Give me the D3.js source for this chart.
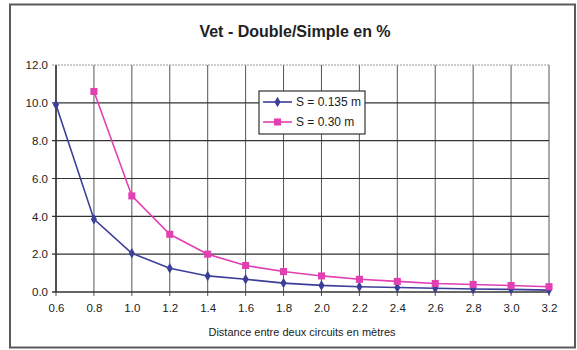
<!DOCTYPE html>
<html><head><meta charset="utf-8">
<script src="https://cdn.jsdelivr.net/npm/d3@7"></script>
<style>body{margin:0;background:#fff}svg{display:block}text{font-family:"Liberation Sans",Arial,sans-serif}</style>
</head><body><svg id="c" width="577" height="350"></svg>
<script>
const distances = [0.6,0.8,1.0,1.2,1.4,1.6,1.8,2.0,2.2,2.4,2.6,2.8,3.0,3.2];
const seriesNames = ["S = 0.135 m","S = 0.30 m"];
const valuesS135 = [9.9,3.85,2.05,1.25,0.85,0.67,0.47,0.35,0.28,0.24,0.2,0.16,0.14,0.1];
const valuesS30 = [null,10.6,5.08,3.05,2.0,1.4,1.08,0.85,0.67,0.56,0.45,0.4,0.34,0.28];
const yTicks = [0,2,4,6,8,10,12];
const title = "Vet - Double/Simple en %";
const xTitle = "Distance entre deux circuits en mètres";
const colors = ["#3b3f98","#e23fb2"];

const svg = d3.select("#c");
svg.append("rect").attr("x",10).attr("y",4.5).attr("width",565).attr("height",343)
  .attr("fill","#fff").attr("stroke","#5a5a5a").attr("stroke-width",2);

const x = d3.scaleLinear().domain([0.6,3.2]).range([56,549]);
const y = d3.scaleLinear().domain([0,12]).range([292,65]);

// grid
svg.append("g").selectAll("line").data(distances).join("line")
  .attr("x1",d=>x(d)).attr("x2",d=>x(d)).attr("y1",y(12)).attr("y2",y(0)+4)
  .attr("stroke","#555").attr("stroke-width",1);
svg.append("g").selectAll("line").data(yTicks).join("line")
  .attr("x1",x(0.6)-4).attr("x2",x(3.2)).attr("y1",d=>y(d)).attr("y2",d=>y(d))
  .attr("stroke",d=>d===12?"#999":"#333").attr("stroke-width",d=>d===0?1.5:1.2)
  .attr("stroke-dasharray",d=>d===12?"2,1":null);
svg.append("line").attr("x1",x(0.6)).attr("x2",x(0.6)).attr("y1",y(12)).attr("y2",y(0))
  .attr("stroke","#333").attr("stroke-width",1.5);

// axes labels
const xAxis = d3.axisBottom(x).tickValues(distances).tickFormat(d3.format(".1f")).tickSize(0).tickPadding(12);
const gx = svg.append("g").attr("transform",`translate(0,${y(0)})`).call(xAxis);
gx.select(".domain").remove();
gx.selectAll("text").attr("font-size",11.5).attr("fill","#222");
const yAxis = d3.axisLeft(y).tickValues(yTicks).tickFormat(d3.format(".1f")).tickSize(0).tickPadding(8);
const gy = svg.append("g").attr("transform",`translate(${x(0.6)},0)`).call(yAxis);
gy.select(".domain").remove();
gy.selectAll("text").attr("font-size",11.5).attr("fill","#222");

svg.append("text").attr("x",295).attr("y",37).attr("text-anchor","middle")
  .attr("font-size",16).attr("font-weight","bold").attr("fill","#222").text(title);
svg.append("text").attr("x",302).attr("y",336).attr("text-anchor","middle")
  .attr("font-size",11).attr("fill","#222").text(xTitle);

// lines
const line = d3.line().defined(d=>d[1]!=null).x(d=>x(d[0])).y(d=>y(d[1]));
const series = [valuesS135, valuesS30];
series.forEach((vals,i)=>{
  const pts = distances.map((d,j)=>[d,vals[j]]);
  svg.append("path").datum(pts).attr("d",line).attr("fill","none")
    .attr("stroke",colors[i]).attr("stroke-width",1.6);
});
const sym0 = d3.symbol().type(d3.symbolDiamond).size(32);
const sym1 = d3.symbol().type(d3.symbolSquare).size(50);
series.forEach((vals,i)=>{
  const pts = distances.map((d,j)=>[d,vals[j]]).filter(p=>p[1]!=null);
  svg.append("g").selectAll("path").data(pts).join("path")
    .attr("transform",p=>`translate(${x(p[0])},${y(p[1])})`)
    .attr("d",i===0?sym0:sym1).attr("fill",colors[i]);
});

// legend
const lg = svg.append("g");
lg.append("rect").attr("x",259).attr("y",91).attr("width",106).attr("height",43)
  .attr("fill","#fff").attr("stroke","#333").attr("stroke-width",1.2);
seriesNames.forEach((n,i)=>{
  const yy = 102 + i*20;
  lg.append("line").attr("x1",263).attr("x2",292).attr("y1",yy).attr("y2",yy)
    .attr("stroke",colors[i]).attr("stroke-width",1.6);
  lg.append("path").attr("transform",`translate(277.5,${yy})`).attr("d",i===0?sym0:sym1).attr("fill",colors[i]);
  lg.append("text").attr("x",296).attr("y",yy+4).attr("font-size",12).attr("fill","#222").text(n);
});
</script></body></html>
